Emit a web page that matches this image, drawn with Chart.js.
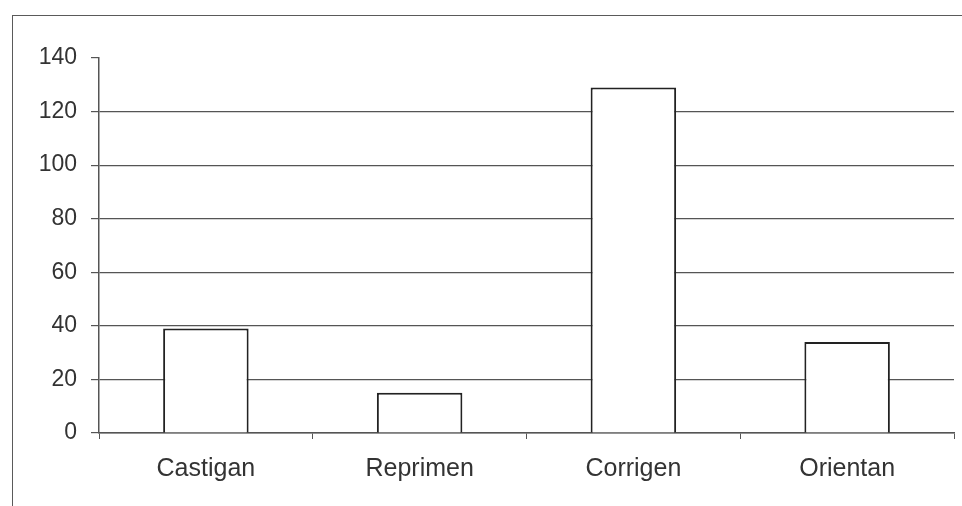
<!DOCTYPE html>
<html>
<head>
<meta charset="utf-8">
<script src="https://cdn.jsdelivr.net/npm/chart.js@4.4.0/dist/chart.umd.min.js"></script>
<style>
    html, body { margin: 0; padding: 0; background: #fff; overflow: hidden; }
    #wrap { position: relative; width: 962px; height: 506px; }
    /* outer frame of the original spreadsheet chart, runs off the picture */
    #frame {
        position: absolute; left: 12px; top: 15px; width: 1000px; height: 600px;
        border: 1.5px solid #5a5a5a; box-sizing: border-box;
    }
    canvas { position: absolute; left: 0; top: 0; }
</style>
</head>
<body>
<div id="wrap">
    <div id="frame"></div>
    <canvas id="chart" width="962" height="506"></canvas>
</div>
<script>
// Data
const categories = ["Castigan", "Reprimen", "Corrigen", "Orientan"];
const values = [39, 15, 129, 34];
const yMin = 0;
const yMax = 140;
const yStep = 20;

const TEXT = "#333333";
const LINE = "#555555";
const FONT = "'Liberation Sans', Arial, sans-serif";

new Chart(document.getElementById("chart"), {
    type: "bar",
    data: {
        labels: categories,
        datasets: [{
            data: values,
            backgroundColor: "#ffffff",
            borderColor: "#222222",
            borderWidth: 2,
            categoryPercentage: 1.0,
            barPercentage: 0.4,
        }],
    },
    options: {
        responsive: false,
        animation: false,
        layout: { padding: { top: 58, right: 8, left: 0, bottom: 0 } },
        plugins: {
            legend: { display: false },
            tooltip: { enabled: false },
        },
        scales: {
            x: {
                grid: {
                    display: true,
                    offset: true,
                    drawOnChartArea: false,
                    tickLength: 6,
                    color: LINE,
                },
                border: { color: LINE, width: 1.5 },
                ticks: {
                    color: TEXT,
                    font: { family: FONT, size: 25 },
                    padding: 15,
                },
                afterFit: function(scale) { scale.height = 73; },
            },
            y: {
                min: yMin,
                max: yMax,
                grid: {
                    // no gridline at the top value, only the tick mark
                    color: ctx => (ctx.tick && ctx.tick.value === yMax) ? "rgba(0,0,0,0)" : LINE,
                    tickColor: LINE,
                    tickLength: 8,
                    lineWidth: 1.2,
                },
                border: { color: LINE, width: 1.5 },
                ticks: {
                    stepSize: yStep,
                    color: TEXT,
                    font: { family: FONT, size: 23 },
                    padding: 14,
                },
                afterFit: function(scale) { scale.width = 99; },
            },
        },
    },
});
</script>
</body>
</html>
